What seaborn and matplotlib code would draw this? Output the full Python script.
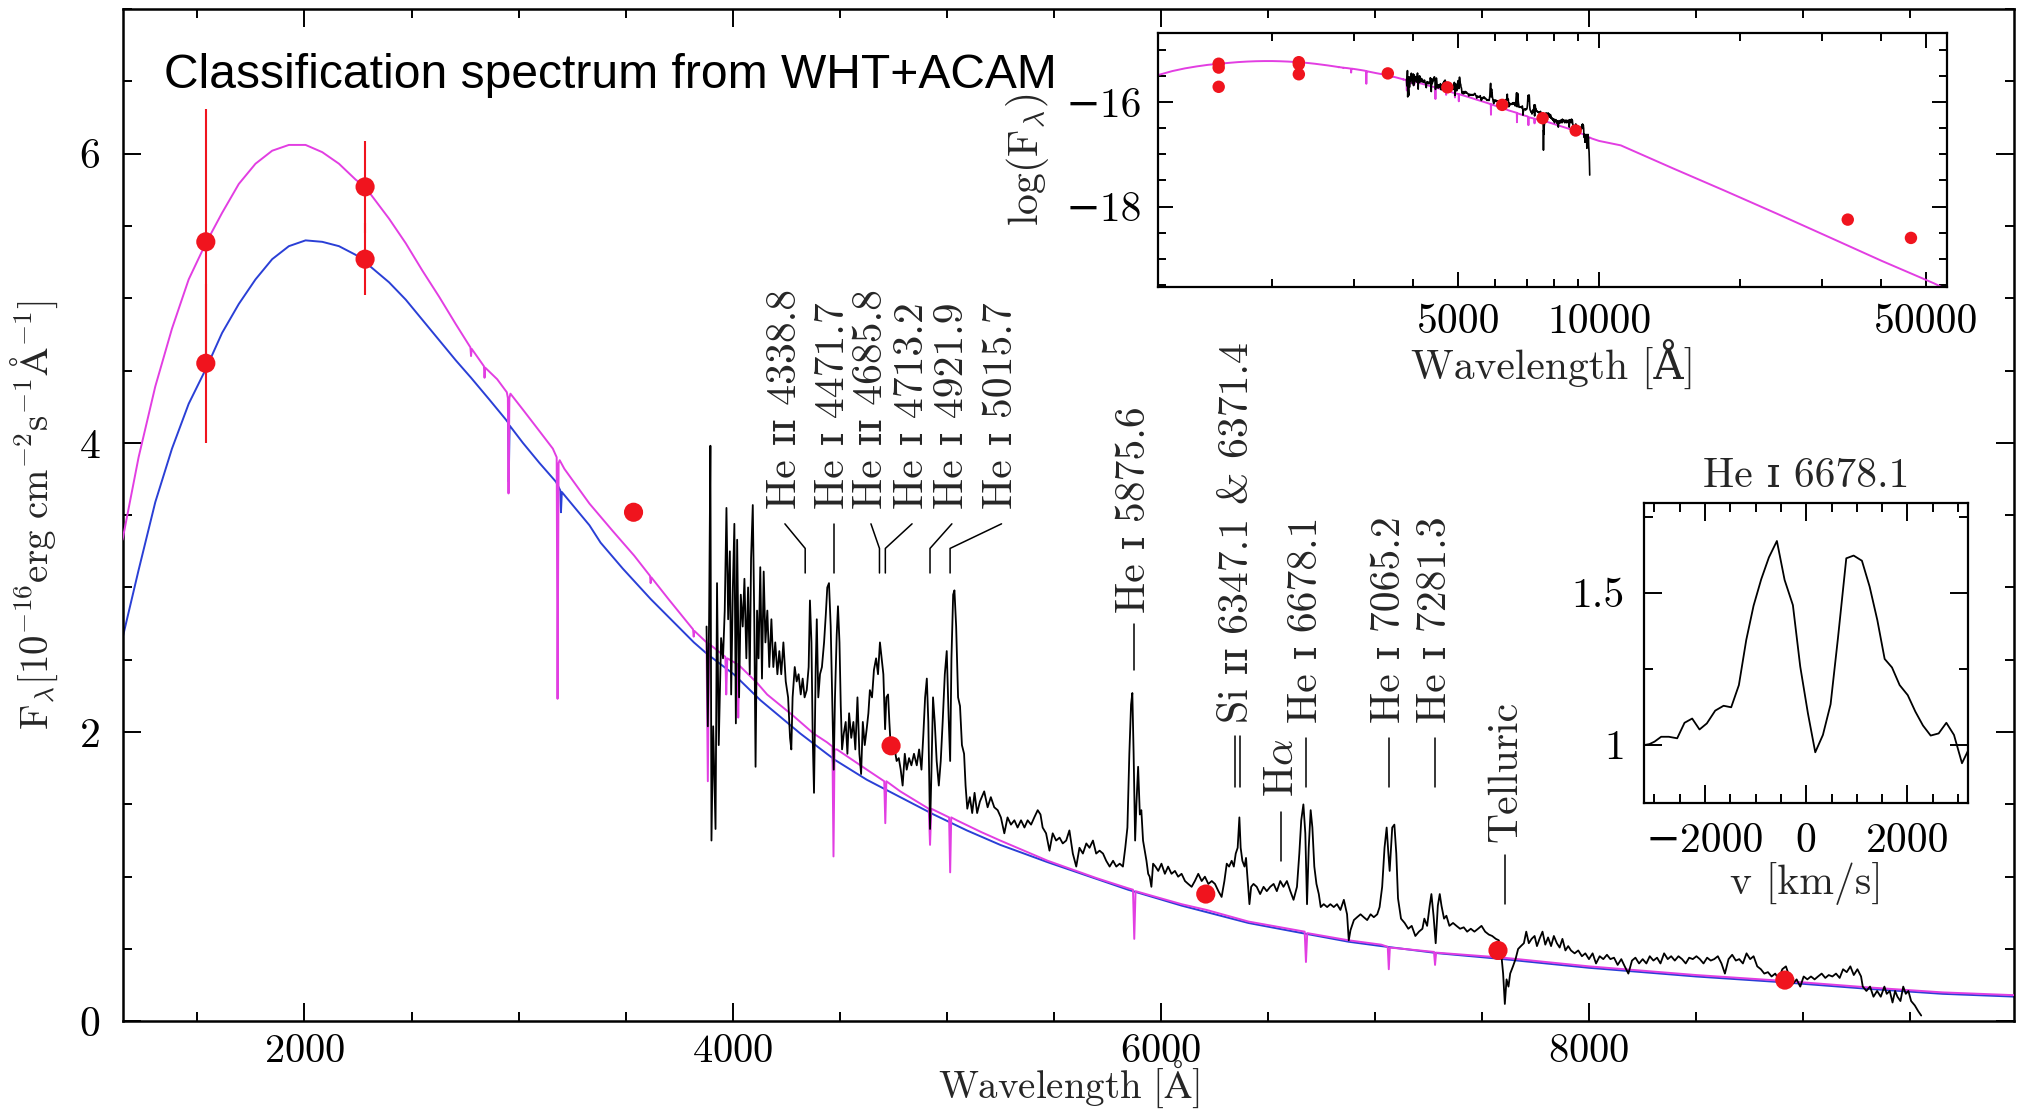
import numpy as np
import matplotlib
matplotlib.use("Agg")
import matplotlib.pyplot as plt
import seaborn as sns
from matplotlib.ticker import MultipleLocator, FixedLocator, FuncFormatter, NullFormatter

# ---------------------------------------------------------------- data
# Observed WHT+ACAM spectrum (wavelength in Angstrom, flux in 1e-16 erg/cm2/s/A)
spec_wave = [
    3878, 3884, 3890, 3896, 3901, 3909, 3920, 3927, 3935, 3946, 3955, 3963, 3971, 3979, 3987, 3993,
    4001, 4008, 4015, 4021, 4030, 4038, 4047, 4055, 4064, 4072, 4080, 4086, 4094, 4101, 4107, 4114,
    4121, 4129, 4137, 4145, 4153, 4162, 4171, 4181, 4190, 4199, 4209, 4218, 4227, 4237, 4248, 4259,
    4268, 4274, 4280, 4290, 4299, 4308, 4318, 4327, 4336, 4346, 4355, 4361, 4368, 4374, 4380, 4388,
    4393, 4400, 4408, 4417, 4427, 4435, 4442, 4450, 4458, 4466, 4472, 4478, 4486, 4492, 4499, 4505,
    4511, 4519, 4528, 4536, 4544, 4554, 4564, 4573, 4583, 4592, 4600, 4608, 4617, 4626, 4634, 4641,
    4651, 4660, 4670, 4679, 4688, 4696, 4704, 4712, 4718, 4726, 4732, 4738, 4748, 4757, 4766, 4776,
    4785, 4794, 4804, 4813, 4824, 4835, 4847, 4860, 4871, 4882, 4891, 4899, 4907, 4914, 4922, 4928,
    4936, 4944, 4953, 4963, 4972, 4981, 4991, 5000, 5009, 5016, 5022, 5030, 5036, 5044, 5053, 5062,
    5071, 5081, 5088, 5096, 5108, 5119, 5130, 5142, 5155,
    5175, 5191, 5206, 5222, 5238, 5253, 5269, 5284, 5300, 5316, 5331, 5347, 5363, 5378, 5394, 5409,
    5425, 5438, 5448, 5464, 5480, 5495, 5511, 5527, 5542, 5558, 5573, 5589, 5605, 5620, 5636, 5652,
    5667, 5683, 5698, 5714, 5730, 5745, 5761, 5777, 5792, 5808, 5823, 5834, 5844, 5853, 5861, 5867,
    5873, 5880, 5886, 5894, 5902, 5909, 5917, 5925, 5933, 5941, 5948, 5956, 5964, 5975, 5988, 6003,
    6019, 6034, 6050, 6066, 6081, 6097, 6113, 6128, 6144, 6159, 6175, 6191, 6206, 6222, 6238, 6253,
    6269, 6284, 6297, 6308, 6319, 6331, 6341, 6350, 6359, 6367, 6373, 6381, 6391, 6398, 6406, 6414,
    6422, 6433, 6448, 6464, 6480, 6495, 6511, 6527, 6542, 6558, 6573, 6589, 6605, 6620, 6636, 6647,
    6656, 6666, 6675, 6683, 6691, 6700, 6708, 6717, 6727, 6738, 6747, 6761, 6777, 6792, 6808, 6823,
    6839, 6855, 6870, 6878, 6886, 6902, 6917, 6933, 6948, 6964, 6980, 6995, 7011, 7022, 7034, 7045,
    7055, 7063, 7069, 7081, 7091, 7100,
    7108, 7122, 7139, 7156, 7172, 7189, 7206, 7222, 7231, 7244, 7256, 7264, 7274, 7284, 7294, 7303,
    7311, 7323, 7334, 7348, 7365, 7381, 7398, 7415, 7431, 7448, 7465, 7482, 7498, 7515, 7532, 7548,
    7565, 7579, 7590, 7599, 7607, 7615, 7624, 7632, 7645, 7657, 7669, 7682, 7696, 7707, 7719, 7732,
    7746, 7757, 7769, 7783, 7796, 7809, 7823, 7836, 7850, 7863, 7876, 7890, 7903, 7916, 7933, 7950,
    7967, 7983, 8000, 8017, 8033, 8050, 8067, 8084, 8100, 8117, 8134, 8151, 8167, 8184, 8201, 8217,
    8234, 8251, 8268, 8284, 8301, 8318, 8334, 8351, 8368, 8384, 8401, 8418, 8435, 8452, 8468, 8485,
    8502, 8518, 8535, 8552, 8569, 8585, 8602, 8619, 8635, 8652, 8669, 8686, 8702, 8719, 8736, 8753,
    8769, 8786, 8803, 8819, 8836, 8853, 8870, 8886, 8903, 8920, 8936, 8953, 8970, 8987, 9003, 9020,
    9037, 9054, 9070, 9087, 9104, 9120, 9137, 9154, 9171, 9187, 9204, 9221, 9237, 9254, 9271, 9279,
    9296, 9313, 9329, 9346, 9363, 9380, 9391, 9405, 9418, 9430, 9441, 9455, 9468, 9480, 9492, 9505,
    9522, 9538, 9552]
spec_flux = [
    2.73, 2.04, 2.78, 3.98, 1.25, 2.04, 1.33, 3.03, 1.91, 2.65, 2.51, 2.84, 3.55, 2.78, 3.25, 2.26,
    3.00, 3.44, 2.06, 3.33, 2.24, 2.95, 2.73, 3.06, 2.51, 3.00, 2.40, 3.20, 3.57, 2.78, 1.76, 2.84,
    2.51, 3.14, 2.37, 3.11, 2.62, 2.84, 2.45, 2.78, 2.45, 2.62, 2.40, 2.56, 2.40, 2.62, 2.35, 2.24,
    1.96, 1.88, 2.24, 2.45, 2.35, 2.40, 2.26, 2.37, 2.24, 2.29, 2.45, 2.91, 2.62, 1.96, 1.58, 2.45,
    2.78, 2.24, 2.40, 2.45, 2.62, 2.81, 3.00, 3.03, 2.73, 2.18, 1.74, 2.24, 2.67, 2.87, 2.62, 2.18,
    1.88, 1.99, 2.07, 1.85, 2.13, 1.96, 2.07, 1.88, 2.24, 1.85, 1.71, 2.07, 1.91, 2.02, 2.13, 2.29,
    2.24, 2.43, 2.51, 2.40, 2.62, 2.51, 2.40, 2.02, 2.24, 2.26, 2.07, 1.91, 1.85, 1.88, 1.80, 1.82,
    1.74, 1.63, 1.85, 1.74, 1.82, 1.77, 1.85, 1.77, 1.88, 1.74, 1.99, 2.24, 2.37, 2.07, 1.33, 1.69,
    2.24, 2.07, 1.80, 1.63, 1.80, 2.07, 2.40, 2.56, 2.10, 1.80, 2.51, 2.95, 2.98, 2.73, 2.24, 2.18,
    1.91, 1.85, 1.63, 1.47, 1.55, 1.44, 1.58, 1.44, 1.52,
    1.59, 1.48, 1.55, 1.48, 1.46, 1.41, 1.30, 1.41, 1.36, 1.39, 1.34, 1.39, 1.34, 1.39, 1.36, 1.41,
    1.46, 1.43, 1.34, 1.30, 1.18, 1.30, 1.25, 1.27, 1.23, 1.25, 1.32, 1.16, 1.07, 1.20, 1.16, 1.23,
    1.20, 1.25, 1.16, 1.18, 1.16, 1.11, 1.07, 1.11, 1.07, 1.09, 1.07, 1.20, 1.34, 1.85, 2.19, 2.27,
    1.85, 1.25, 1.50, 1.76, 1.43, 1.46, 1.25, 1.18, 1.11, 1.02, 1.00, 0.93, 1.09, 1.07, 1.04, 1.09,
    1.02, 1.07, 1.02, 1.04, 1.00, 1.02, 0.97, 0.95, 0.93, 0.97, 1.02, 0.97, 1.00, 0.95, 0.97, 0.95,
    0.90, 0.86, 0.97, 1.09, 1.07, 1.11, 1.07, 1.16, 1.20, 1.41, 1.20, 1.11, 1.07, 1.13, 0.97, 0.81,
    0.93, 0.95, 0.93, 0.88, 0.93, 0.90, 0.93, 0.95, 0.90, 0.97, 0.93, 0.97, 0.90, 0.84, 0.93, 1.16,
    1.39, 1.50, 1.30, 0.81, 1.20, 1.46, 1.34, 1.07, 0.95, 0.88, 0.79, 0.81, 0.79, 0.81, 0.79, 0.81,
    0.77, 0.84, 0.74, 0.56, 0.63, 0.70, 0.72, 0.74, 0.72, 0.70, 0.74, 0.72, 0.74, 0.79, 0.93, 1.20,
    1.34, 1.16, 1.04, 1.34, 1.36, 1.16,
    0.85, 0.71, 0.68, 0.64, 0.66, 0.59, 0.62, 0.64, 0.71, 0.66, 0.80, 0.88, 0.73, 0.54, 0.80, 0.88,
    0.80, 0.71, 0.73, 0.66, 0.68, 0.66, 0.64, 0.65, 0.62, 0.64, 0.62, 0.64, 0.66, 0.62, 0.60, 0.59,
    0.57, 0.56, 0.47, 0.33, 0.12, 0.29, 0.24, 0.33, 0.38, 0.43, 0.50, 0.52, 0.54, 0.62, 0.54, 0.57,
    0.59, 0.52, 0.57, 0.62, 0.53, 0.58, 0.52, 0.59, 0.54, 0.51, 0.57, 0.49, 0.52, 0.49, 0.47, 0.49,
    0.45, 0.47, 0.43, 0.47, 0.40, 0.45, 0.43, 0.46, 0.43, 0.44, 0.39, 0.43, 0.38, 0.33, 0.42, 0.44,
    0.40, 0.43, 0.40, 0.45, 0.42, 0.44, 0.40, 0.47, 0.43, 0.45, 0.42, 0.45, 0.43, 0.40, 0.44, 0.43,
    0.45, 0.43, 0.40, 0.44, 0.42, 0.43, 0.45, 0.40, 0.33, 0.43, 0.46, 0.42, 0.43, 0.40, 0.47, 0.43,
    0.45, 0.38, 0.36, 0.33, 0.34, 0.31, 0.33, 0.29, 0.36, 0.38, 0.31, 0.26, 0.29, 0.24, 0.31, 0.29,
    0.31, 0.29, 0.31, 0.33, 0.30, 0.32, 0.31, 0.33, 0.30, 0.36, 0.34, 0.38, 0.32, 0.36, 0.31, 0.24,
    0.21, 0.24, 0.17, 0.21, 0.17, 0.24, 0.19, 0.21, 0.13, 0.21, 0.17, 0.14, 0.24, 0.19, 0.21, 0.14,
    0.11, 0.07, 0.04]

# Model SED, hotter/brighter fit (magenta)
model_m_wave = [
    1150, 1225, 1303, 1381, 1459, 1539, 1615, 1693, 1771, 1849, 1927, 2005, 2083, 2161, 2239, 2283,
    2395, 2473, 2551, 2629, 2707, 2775, 2778, 2781, 2838, 2841, 2844, 2900, 2945, 2950, 2953, 2957,
    2962, 3020, 3098, 3160, 3178, 3182, 3187, 3192, 3214, 3331, 3440, 3540, 3614, 3617, 3620, 3700,
    3815, 3818, 3821, 3878, 3884, 3890, 3966, 3970, 3975, 4022, 4026, 4031, 4114, 4161, 4285, 4378,
    4440, 4466, 4471, 4476, 4487, 4627, 4708, 4713, 4718, 4783, 4916, 4922, 4928, 5011, 5016, 5021,
    5047, 5159, 5250, 5472, 5700, 5847, 5870, 5876, 5882, 6097, 6214, 6409, 6672, 6678, 6684, 6878,
    7030, 7060, 7065, 7070, 7276, 7281, 7286, 7600, 8000, 8500, 8905, 9300, 9652, 10000]
model_m_flux = [
    3.33, 3.90, 4.39, 4.79, 5.13, 5.38, 5.59, 5.79, 5.93, 6.02, 6.06, 6.06, 6.01, 5.93, 5.82, 5.77,
    5.55, 5.38, 5.19, 5.01, 4.82, 4.66, 4.60, 4.65, 4.53, 4.45, 4.52, 4.44, 4.35, 4.31, 3.65, 4.31,
    4.34, 4.23, 4.08, 3.96, 3.90, 2.23, 3.86, 3.88, 3.82, 3.58, 3.39, 3.22, 3.08, 3.03, 3.07, 2.92,
    2.71, 2.66, 2.70, 2.62, 1.66, 2.61, 2.52, 2.26, 2.51, 2.47, 2.10, 2.46, 2.34, 2.26, 2.11, 1.99,
    1.93, 1.90, 1.14, 1.88, 1.88, 1.74, 1.66, 1.37, 1.66, 1.59, 1.47, 1.22, 1.47, 1.41, 1.03, 1.41,
    1.39, 1.31, 1.25, 1.11, 0.99, 0.92, 0.91, 0.57, 0.90, 0.81, 0.77, 0.69, 0.62, 0.41, 0.61, 0.56,
    0.53, 0.515, 0.36, 0.51, 0.48, 0.39, 0.475, 0.44, 0.38, 0.32, 0.28, 0.235, 0.20, 0.18]

# Model SED, cooler fit (blue)
model_b_wave = [
    1150, 1225, 1303, 1381, 1459, 1539, 1615, 1693, 1771, 1849, 1927, 2005, 2083, 2161, 2239, 2283,
    2395, 2473, 2551, 2629, 2707, 2778, 2863, 2941, 2951, 2954, 2958, 3020, 3098, 3175, 3195, 3198,
    3202, 3331, 3383, 3487, 3617, 3819, 3881, 4005, 4130, 4316, 4440, 4467, 4471, 4475, 4627, 4783,
    4939, 5094, 5250, 5472, 5847, 6097, 6409, 6660, 6878, 7030, 7300, 7600, 8000, 8500, 8905, 9300,
    9652, 10000]
model_b_flux = [
    2.65, 3.12, 3.59, 3.96, 4.27, 4.51, 4.76, 4.96, 5.13, 5.27, 5.36, 5.40, 5.39, 5.36, 5.30, 5.25,
    5.11, 4.99, 4.85, 4.71, 4.57, 4.45, 4.30, 4.16, 4.14, 3.73, 4.12, 4.00, 3.86, 3.73, 3.67, 3.52,
    3.66, 3.43, 3.31, 3.13, 2.92, 2.62, 2.54, 2.40, 2.22, 1.99, 1.85, 1.82, 1.74, 1.81, 1.67, 1.55,
    1.43, 1.32, 1.22, 1.10, 0.91, 0.80, 0.68, 0.61, 0.55, 0.52, 0.47, 0.43, 0.37, 0.31, 0.27, 0.225,
    0.19, 0.17]

# Photometry (UV pairs, then optical bands)
phot_wave = [1539, 1539, 2283, 2283, 3537, 4740, 6210, 7575, 8915]
phot_flux = [5.39, 4.55, 5.77, 5.27, 3.52, 1.905, 0.88, 0.49, 0.285]
phot_err = [0.92, 0.55, 0.32, 0.25, 0.0, 0.0, 0.0, 0.0, 0.0]

# Additional photometry only shown on the log-scale SED (log10 F)
extra_wave = [1539, 2283, 34000, 46400]
extra_logf = [-15.71, -15.47, -18.25, -18.60]

# Model continuation into the infrared (log10 F)
model_ir_wave = [11130, 14390, 18590, 24040, 31100, 40200, 52000, 55400]
model_ir_logf = [-16.83, -17.27, -17.70, -18.14, -18.59, -19.04, -19.47, -19.59]

# He I 6678 profile, velocity in km/s and normalised flux
prof_vel = [-3196, -3097, -2998, -2867, -2715, -2550, -2405, -2254, -2109, -1964, -1799, -1634,
            -1483, -1331, -1186, -1041, -890, -738, -580, -428, -264, -119, 33, 178, 329, 481, 626,
            791, 936, 1100, 1252, 1404, 1549, 1694, 1845, 2005, 2155, 2306, 2458, 2616, 2768, 2919,
            3077, 3196]
prof_flux = [0.999, 1.002, 1.010, 1.026, 1.026, 1.021, 1.072, 1.086, 1.050, 1.070, 1.112, 1.128,
             1.123, 1.196, 1.344, 1.457, 1.544, 1.616, 1.670, 1.542, 1.459, 1.257, 1.103, 0.975,
             1.032, 1.133, 1.350, 1.613, 1.622, 1.605, 1.520, 1.410, 1.282, 1.254, 1.196, 1.163,
             1.109, 1.063, 1.030, 1.037, 1.072, 1.032, 0.939, 0.980]

# Line identifications
top_ids = ['He ɪɪ 4338.8', 'He ɪ 4471.7', 'He ɪɪ 4685.8', 'He ɪ 4713.2', 'He ɪ 4921.9', 'He ɪ 5015.7']
top_rest = [4338.8, 4471.7, 4685.8, 4713.2, 4921.9, 5015.7]
red_ids = ['He ɪ 5875.6', 'He ɪ 6678.1', 'He ɪ 7065.2', 'He ɪ 7281.3']
red_rest = [5875.6, 6678.1, 7065.2, 7281.3]
si_id = 'Si ɪɪ 6347.1 & 6371.4'
si_rest = [6347.1, 6371.4]
ha_rest = 6562.8
telluric_wave = 7610

# ---------------------------------------------------------------- style
sns.set_style("ticks")
plt.rcParams['font.family'] = ['cmr10', 'DejaVu Serif']
plt.rcParams['mathtext.fontset'] = 'cm'
plt.rcParams['axes.unicode_minus'] = True

MAGENTA = '#e23ee2'
BLUE = '#2a3fd6'
RED = '#f0141e'
TXT = 30

def fmt(v, pos):
    return f"{v:g}".replace('-', '\u2212')

def fmt_math(v, pos):
    # tight (ink-only) boxes for the bottom axis numbers
    return r"$\mathrm{%s}$" % f"{v:g}"

def style_axes(a, major, minor, lw=1.8):
    for s in a.spines.values():
        s.set_linewidth(lw)
        s.set_color('black')
    a.tick_params(which='both', direction='in', top=True, right=True, width=1.4, colors='black')
    a.tick_params(which='major', length=major)
    a.tick_params(which='minor', length=minor)

fig = plt.figure(figsize=(20.22, 11.10), dpi=100)
fig.patch.set_facecolor('white')

# ---------------------------------------------------------------- main panel
ax = fig.add_axes([0.0606, 0.0799, 0.9354, 0.9120])
ax.set_facecolor('white')

sns.lineplot(x=model_b_wave, y=model_b_flux, ax=ax, color=BLUE, linewidth=1.4,
             sort=False, estimator=None, zorder=2)
sns.lineplot(x=model_m_wave, y=model_m_flux, ax=ax, color=MAGENTA, linewidth=1.4,
             sort=False, estimator=None, zorder=3)
sns.lineplot(x=spec_wave, y=spec_flux, ax=ax, color='black', linewidth=1.3,
             sort=False, estimator=None, zorder=4)

pw = np.array(phot_wave, dtype=float)
pf = np.array(phot_flux, dtype=float)
pe = np.array(phot_err, dtype=float)
has_err = pe > 0
ax.vlines(pw[has_err], pf[has_err] - pe[has_err], pf[has_err] + pe[has_err],
          color=RED, linewidth=1.5, zorder=5)
sns.scatterplot(x=pw, y=pf, ax=ax, color=RED, s=190, edgecolor='none', zorder=6)

ax.set_xlim(1150, 9985)
ax.set_ylim(0, 7)
ax.xaxis.set_major_locator(MultipleLocator(2000))
ax.xaxis.set_minor_locator(MultipleLocator(500))
ax.yaxis.set_major_locator(MultipleLocator(2))
ax.yaxis.set_minor_locator(MultipleLocator(0.5))
ax.xaxis.set_major_formatter(FuncFormatter(fmt_math))
ax.yaxis.set_major_formatter(FuncFormatter(fmt))
style_axes(ax, 13, 6.5)
ax.tick_params(axis='x', labelsize=29, pad=9)
ax.tick_params(axis='y', labelsize=TXT, pad=16)
ax.set_xlabel(r'$\mathrm{Wavelength\ [\AA]}$', fontsize=28)
ax.xaxis.label.set_va('bottom')
ax.xaxis.set_label_coords(0.5, -0.0872)
ax.set_ylabel(r'$\mathrm{F_{\lambda}[10^{-16}erg\ cm^{-2}s^{-1}\AA^{-1}]}$', fontsize=28, labelpad=14)

ax.text(0.0218, 0.922, 'Classification spectrum from WHT+ACAM', transform=ax.transAxes,
        family='Liberation Sans', fontsize=34.6, ha='left', va='baseline', color='black')

# blue-end identifications with bent leaders
top_text_x = [4244, 4471.7, 4646, 4838, 5024, 5256]
for name, rest, tx in zip(top_ids, top_rest, top_text_x):
    ax.text(tx, 3.54, name, rotation=90, ha='center', va='bottom', fontsize=TXT)
    ax.plot([tx, rest, rest], [3.44, 3.27, 3.10], color='black', lw=1.1, zorder=7)

red_text_bottom = [2.82, 2.06, 2.06, 2.06]
red_line_span = [(2.75, 2.43), (1.96, 1.62), (1.96, 1.62), (1.96, 1.62)]
for name, rest, yb, (y1, y2) in zip(red_ids, red_rest, red_text_bottom, red_line_span):
    ax.text(rest, yb, name, rotation=90, ha='center', va='bottom', fontsize=TXT)
    ax.plot([rest, rest], [y1, y2], color='black', lw=1.1, zorder=7)

ax.text(np.mean(si_rest), 2.06, si_id, rotation=90, ha='center', va='bottom', fontsize=TXT)
for r in si_rest:
    ax.plot([r, r], [1.97, 1.62], color='black', lw=1.1, zorder=7)

ax.text(ha_rest + 4, 1.55, r'H$\alpha$', rotation=90, ha='center', va='bottom', fontsize=TXT)
ax.plot([ha_rest, ha_rest], [1.45, 1.11], color='black', lw=1.1, zorder=7)

ax.text(telluric_wave, 1.24, 'Telluric', rotation=90, ha='center', va='bottom', fontsize=TXT)
ax.plot([telluric_wave, telluric_wave], [1.15, 0.81], color='black', lw=1.1, zorder=7)

# ---------------------------------------------------------------- log-scale SED inset
ax1 = fig.add_axes([0.5729, 0.7414, 0.3900, 0.2289])
ax1.set_facecolor('white')
sed_wave = np.concatenate([model_m_wave, model_ir_wave])
sed_logf = np.concatenate([np.log10(np.array(model_m_flux) * 1e-16), model_ir_logf])
sns.lineplot(x=sed_wave, y=sed_logf, ax=ax1, color=MAGENTA, linewidth=1.4,
             sort=False, estimator=None, zorder=2)
sns.lineplot(x=spec_wave, y=np.log10(np.array(spec_flux) * 1e-16), ax=ax1, color='black',
             linewidth=1.2, sort=False, estimator=None, zorder=3)
all_w = np.concatenate([pw, extra_wave])
all_lf = np.concatenate([np.log10(pf * 1e-16), extra_logf])
sns.scatterplot(x=all_w, y=all_lf, ax=ax1, color=RED, s=80, edgecolor='none', zorder=4)
ax1.set_xscale('log')
ax1.set_xlim(1144, 55400)
ax1.set_ylim(-19.54, -14.68)
ax1.xaxis.set_major_locator(FixedLocator([5000, 10000, 50000]))
ax1.xaxis.set_minor_locator(FixedLocator([2000, 3000, 4000, 6000, 7000, 8000, 9000,
                                          20000, 30000, 40000]))
ax1.xaxis.set_major_formatter(FuncFormatter(fmt))
ax1.xaxis.set_minor_formatter(NullFormatter())
ax1.yaxis.set_major_locator(MultipleLocator(2))
ax1.yaxis.set_minor_locator(MultipleLocator(0.5))
ax1.yaxis.set_major_formatter(FuncFormatter(fmt))
style_axes(ax1, 11, 6, lw=1.6)
ax1.tick_params(axis='x', labelsize=TXT, pad=12)
ax1.tick_params(axis='y', labelsize=TXT, pad=12)
ax1.set_xlabel('Wavelength [Å]', fontsize=TXT, labelpad=-2)
ax1.set_ylabel(r'$\mathrm{log(F_{\lambda})}$', fontsize=TXT, labelpad=10)

# ---------------------------------------------------------------- He I 6678 profile inset
ax2 = fig.add_axes([0.8132, 0.2768, 0.1602, 0.2698])
ax2.set_facecolor('white')
sns.lineplot(x=prof_vel, y=prof_flux, ax=ax2, color='black', linewidth=1.3,
             sort=False, estimator=None)
ax2.set_xlim(-3200, 3200)
ax2.set_ylim(0.809, 1.794)
ax2.xaxis.set_major_locator(MultipleLocator(2000))
ax2.xaxis.set_minor_locator(MultipleLocator(500))
ax2.yaxis.set_major_locator(MultipleLocator(0.5))
ax2.yaxis.set_minor_locator(MultipleLocator(0.25))
ax2.xaxis.set_major_formatter(FuncFormatter(fmt))
ax2.yaxis.set_major_formatter(FuncFormatter(fmt))
style_axes(ax2, 13, 6.5, lw=1.6)
ax2.tick_params(axis='x', labelsize=TXT, pad=14)
ax2.tick_params(axis='y', labelsize=TXT, pad=14)
ax2.set_xlabel('v [km/s]', fontsize=TXT, labelpad=2)
ax2.set_ylabel('')
ax2.set_title('He ɪ 6678.1', fontsize=TXT, pad=12)

fig.savefig('out.png', dpi=100, facecolor='white')
